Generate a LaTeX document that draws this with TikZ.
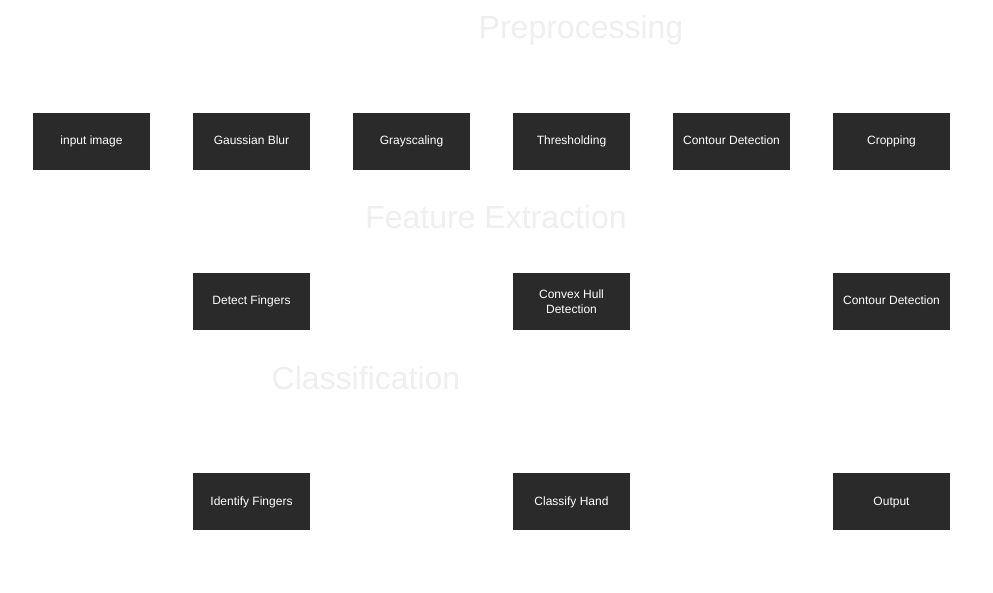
\documentclass[tikz,border=0pt]{standalone}
\usepackage{fontspec}
\setmainfont{Liberation Sans}
\usepackage{tikz}
\usetikzlibrary{positioning}
\definecolor{boxdark}{HTML}{2A2A2A}
\definecolor{stagegray}{HTML}{EFEFEF}

\begin{document}
\begin{tikzpicture}[
    x=1pt, y=-1pt,
    stepbox/.style={fill=boxdark, text=white, minimum width=117pt, minimum height=57pt, inner sep=0pt, align=center, text height=9pt, text depth=2pt, font=\fontsize{12}{15}\selectfont},
    twoline/.style={text height=, text depth=},
    stage/.style={text=stagegray, inner sep=0pt, anchor=base, font=\fontsize{32}{36}\selectfont}
]
\useasboundingbox[fill=white] (0,0) rectangle (993,593);

% stage titles
\node[stage] (tpre) at (581,39) {Preprocessing};
\node[stage] (tfeat) at (496,229) {Feature Extraction};
\node[stage] (tcls) at (366,389) {Classification};

% preprocessing row
\node[stepbox] (input) at (91.5,141.5) {input image};
\node[stepbox] (blur) at (251.5,141.5) {Gaussian Blur};
\node[stepbox] (gray) at (411.5,141.5) {Grayscaling};
\node[stepbox] (thresh) at (571.5,141.5) {Thresholding};
\node[stepbox] (contour) at (731.5,141.5) {Contour Detection};
\node[stepbox] (crop) at (891.5,141.5) {Cropping};

% feature extraction row
\node[stepbox] (detect) at (251.5,301.5) {Detect Fingers};
\node[stepbox, twoline] (hull) at (571.5,301.5) {Convex Hull\\Detection};
\node[stepbox] (contour2) at (891.5,301.5) {Contour Detection};

% classification row
\node[stepbox] (identify) at (251.5,501.5) {Identify Fingers};
\node[stepbox] (classify) at (571.5,501.5) {Classify Hand};
\node[stepbox] (output) at (891.5,501.5) {Output};
\end{tikzpicture}
\end{document}
